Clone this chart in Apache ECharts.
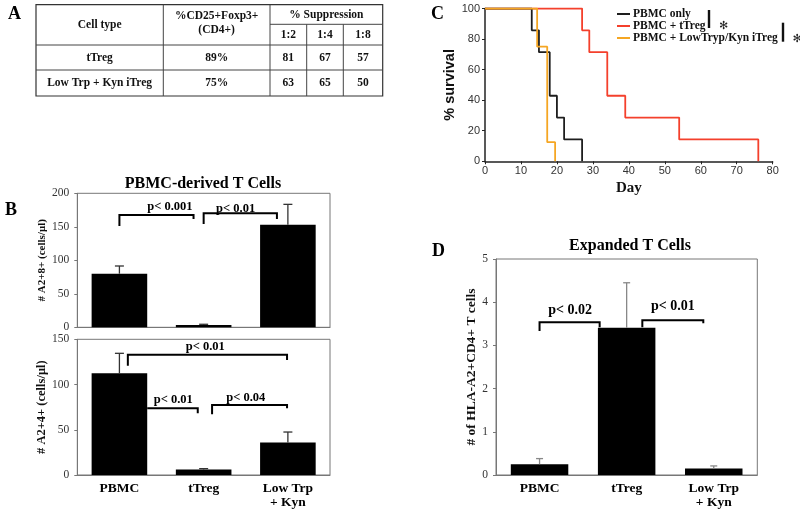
<!DOCTYPE html>
<html><head><meta charset="utf-8">
<script src="https://cdn.jsdelivr.net/npm/echarts@6/dist/echarts.min.js"></script>
<style>html,body{margin:0;padding:0;background:#fff}#c{width:800px;height:511px}</style>
</head><body><div id="c"></div>
<script>
// ---------- DATA ----------
// Panel A table
const tableHeaders = ['Cell type', '%CD25+Foxp3+', '(CD4+)', '% Suppression'];
const ratios = ['1:2', '1:4', '1:8'];
const tableRows = [
  ['tTreg', '89%', '81', '67', '57'],
  ['Low Trp + Kyn iTreg', '75%', '63', '65', '50']
];
// Panel C survival
const survNames = ['PBMC only', 'PBMC + tTreg', 'PBMC + LowTryp/Kyn iTreg'];
const pbmcDays = [0, 13, 15, 18, 20, 22, 27];
const pbmcSurv = [100, 85.7, 71.4, 42.9, 28.6, 14.3, 0];
const tregDays = [0, 27, 29, 34, 39, 54, 76];
const tregSurv = [100, 85.7, 71.4, 42.9, 28.6, 14.3, 0];
const lowDays = [0, 14.5, 17.3, 19.5];
const lowSurv = [100, 75, 12.5, 0];
// Panel B / D bars
const groups = ['PBMC', 'tTreg', 'Low Trp\n+ Kyn'];
const a28Mean = [80, 3.5, 153];
const a28Top = [91.5, 4.5, 183.5];
const a24Mean = [112.5, 6, 36];
const a24Top = [134.5, 7, 47.5];
const expMean = [0.25, 3.41, 0.15];
const expTop = [0.38, 4.45, 0.21];
// significance brackets: [x1, x2, yTop, yLeft, yRight, textX, textY]
const brA28 = [[0, 0.88, 167.6, 151.2, 161.6, 0.6, 180], [1.0, 1.87, 170.1, 154.2, 161.6, 1.38, 177]];
const brA28Txt = ['p< 0.001', 'p< 0.01'];
const brA24 = [[0.1, 1.99, 133, 120.8, 127.1, 1.02, 141.8], [0.33, 0.93, 73.7, 73.7, 68.2, 0.64, 82.9], [1.1, 1.99, 77.4, 67.1, 73.7, 1.5, 85.4]];
const brA24Txt = ['p< 0.01', 'p< 0.01', 'p< 0.04'];
const brExp = [[0, 0.69, 3.535, 3.333, 3.419, 0.35, 3.82], [1.18, 1.88, 3.58, 3.42, 3.51, 1.53, 3.9]];
const brExpTxt = ['p< 0.02', 'p< 0.01'];

// ---------- CHART ----------
const SERIF = '"Liberation Serif","Times New Roman",serif';
const SANS = '"Liberation Sans",Arial,sans-serif';
const chart = echarts.init(document.getElementById('c'));

function zip(a, b) { return a.map((v, i) => [v, b[i]]); }
function errData(m, t) { return m.map((v, i) => [i, v, t[i]]); }

function errRender(capHalf, color) {
  return function (params, api) {
    const x = api.value(0), m = api.value(1), t = api.value(2);
    const p0 = api.coord([x, m]), p1 = api.coord([x, t]);
    return { type: 'group', children: [
      { type: 'line', shape: { x1: p0[0], y1: p0[1], x2: p1[0], y2: p1[1] }, style: { stroke: color, lineWidth: 1.3 } },
      { type: 'line', shape: { x1: p1[0] - capHalf, y1: p1[1], x2: p1[0] + capHalf, y2: p1[1] }, style: { stroke: color, lineWidth: 1.3 } }
    ] };
  };
}
function brRender(labels, fs) {
  return function (params, api) {
    const v = i => api.value(i);
    const a = api.coord([v(0), v(3)]), b = api.coord([v(0), v(2)]), c = api.coord([v(1), v(2)]), d = api.coord([v(1), v(4)]);
    const tp = api.coord([v(5), v(6)]);
    return { type: 'group', children: [
      { type: 'polyline', shape: { points: [a, b, c, d] }, style: { stroke: '#000', lineWidth: 2, fill: null } },
      { type: 'text', x: tp[0], y: tp[1], style: { text: labels[params.dataIndex], fill: '#000', font: 'bold ' + fs + 'px ' + SERIF, textAlign: 'center', textVerticalAlign: 'middle' } }
    ] };
  };
}

const catLabel = { fontFamily: SERIF, fontWeight: 'bold', fontSize: 13.5, color: '#000', lineHeight: 14, margin: 7 };
const boxGrid = { show: true, borderColor: '#777', borderWidth: 1, backgroundColor: 'transparent' };
function barY(max, interval, name, nameSize, nameGap, grid) {
  return {
    type: 'value', gridIndex: grid, min: 0, max: max, interval: interval,
    name: name, nameLocation: 'middle', nameGap: nameGap,
    nameTextStyle: { fontFamily: SERIF, fontWeight: 'bold', fontSize: nameSize, color: '#111' },
    axisLine: { show: true, onZero: false, lineStyle: { color: '#777', width: 1 } },
    axisTick: { show: true, length: 3, lineStyle: { color: '#777' } },
    axisLabel: { fontFamily: SERIF, fontSize: 11.5, color: '#333', margin: 8 },
    splitLine: { show: false }
  };
}
function catX(grid, showLabels) {
  return {
    type: 'category', gridIndex: grid, data: groups,
    axisLine: { show: true, onZero: false, lineStyle: { color: '#777', width: 1 } },
    axisTick: { show: false },
    axisLabel: showLabels ? catLabel : { show: false }
  };
}
function hidX(grid) {
  return { type: 'value', gridIndex: grid, min: -0.5, max: 2.5, show: false };
}

const option = {
  animation: false,
  backgroundColor: '#fff',
  title: [
    { text: 'A', left: 3, top: 0, textStyle: { fontFamily: SERIF, fontWeight: 'bold', fontSize: 18, color: '#000' } },
    { text: 'B', left: 0, top: 196, textStyle: { fontFamily: SERIF, fontWeight: 'bold', fontSize: 18, color: '#000' } },
    { text: 'C', left: 426, top: 0, textStyle: { fontFamily: SERIF, fontWeight: 'bold', fontSize: 18, color: '#000' } },
    { text: 'D', left: 427, top: 237, textStyle: { fontFamily: SERIF, fontWeight: 'bold', fontSize: 18, color: '#000' } },
    { text: 'PBMC-derived T Cells', left: 198, top: 171, textAlign: 'center', textStyle: { fontFamily: SERIF, fontWeight: 'bold', fontSize: 16, color: '#000' } },
    { text: 'Expanded T Cells', left: 625, top: 233, textAlign: 'center', textStyle: { fontFamily: SERIF, fontWeight: 'bold', fontSize: 16, color: '#000' } }
  ],
  legend: {
    data: survNames.map(n => ({ name: n, icon: 'rect' })), orient: 'vertical', left: 617, top: 8, padding: 0,
    itemWidth: 13, itemHeight: 2, itemGap: 0,
    textStyle: { fontFamily: SERIF, fontWeight: 'bold', fontSize: 11.5, color: '#111', lineHeight: 11.8, padding: [0, 0, 0, -2] }
  },
  grid: [
    { left: 485, top: 8.5, width: 287.7, height: 152.8 },
    Object.assign({ left: 77.3, top: 193.3, width: 252.7, height: 134 }, boxGrid),
    Object.assign({ left: 77.3, top: 339.3, width: 252.7, height: 135.7 }, boxGrid),
    Object.assign({ left: 496, top: 259, width: 261.3, height: 216 }, boxGrid)
  ],
  xAxis: [
    { type: 'value', gridIndex: 0, min: 0, max: 80, interval: 10, name: 'Day', nameLocation: 'middle', nameGap: 19,
      nameTextStyle: { fontFamily: SERIF, fontWeight: 'bold', fontSize: 15, color: '#111' },
      axisLine: { show: true, onZero: false, lineStyle: { color: '#222', width: 1.5 } },
      axisTick: { show: true, length: 3, lineStyle: { color: '#222' } },
      axisLabel: { fontFamily: SANS, fontSize: 11, color: '#333', margin: 4 }, splitLine: { show: false } },
    catX(1, false), hidX(1),
    catX(2, true), hidX(2),
    catX(3, true), hidX(3)
  ],
  yAxis: [
    { type: 'value', gridIndex: 0, min: 0, max: 100, interval: 20, name: '% survival', nameLocation: 'middle', nameGap: 12,
      nameTextStyle: { fontFamily: SANS, fontWeight: 'bold', fontSize: 14.5, color: '#111' },
      axisLine: { show: true, onZero: false, lineStyle: { color: '#222', width: 1.5 } },
      axisTick: { show: true, length: 3, lineStyle: { color: '#222' } },
      axisLabel: { fontFamily: SANS, fontSize: 11, color: '#333', margin: 5 }, splitLine: { show: false } },
    barY(200, 50, '# A2+8+ (cells/\u03bcl)', 11, 26, 1),
    barY(150, 50, '# A2+4+ (cells/\u03bcl)', 12.5, 26, 2),
    barY(5, 1, '# of HLA-A2+CD4+ T cells', 13.5, 17, 3)
  ],
  series: [
    { name: survNames[0], type: 'line', step: 'end', xAxisIndex: 0, yAxisIndex: 0, symbol: 'none', data: zip(pbmcDays, pbmcSurv), color: '#1e1e1e', lineStyle: { width: 1.8 }, z: 4 },
    { name: survNames[1], type: 'line', step: 'end', xAxisIndex: 0, yAxisIndex: 0, symbol: 'none', data: zip(tregDays, tregSurv), color: '#f4402c', lineStyle: { width: 1.8 }, z: 3 },
    { name: survNames[2], type: 'line', step: 'end', xAxisIndex: 0, yAxisIndex: 0, symbol: 'none', data: zip(lowDays, lowSurv), color: '#f5a623', lineStyle: { width: 1.8 }, z: 5 },

    { type: 'bar', xAxisIndex: 1, yAxisIndex: 1, data: a28Mean, barWidth: '66%', itemStyle: { color: '#000' }, z: 2 },
    { type: 'custom', xAxisIndex: 2, yAxisIndex: 1, data: errData(a28Mean, a28Top), renderItem: errRender(4.5, '#333'), z: 3 },
    { type: 'custom', xAxisIndex: 2, yAxisIndex: 1, data: brA28, renderItem: brRender(brA28Txt, 12.5), z: 4 },

    { type: 'bar', xAxisIndex: 3, yAxisIndex: 2, data: a24Mean, barWidth: '66%', itemStyle: { color: '#000' }, z: 2 },
    { type: 'custom', xAxisIndex: 4, yAxisIndex: 2, data: errData(a24Mean, a24Top), renderItem: errRender(4.5, '#333'), z: 3 },
    { type: 'custom', xAxisIndex: 4, yAxisIndex: 2, data: brA24, renderItem: brRender(brA24Txt, 12.5), z: 4 },

    { type: 'bar', xAxisIndex: 5, yAxisIndex: 3, data: expMean, barWidth: '66%', itemStyle: { color: '#000' }, z: 2 },
    { type: 'custom', xAxisIndex: 6, yAxisIndex: 3, data: errData(expMean, expTop), renderItem: errRender(3.5, '#888'), z: 3 },
    { type: 'custom', xAxisIndex: 6, yAxisIndex: 3, data: brExp, renderItem: brRender(brExpTxt, 14), z: 4 }
  ],
  graphic: []
};

// ----- Table (panel A) -----
const colX = [36, 163.3, 270, 306.7, 343.3, 382.7];
const rowY = [4.7, 45, 70, 96];
const subY = 24.3;
const g = [];
const ln = (x1, y1, x2, y2, w, c) => g.push({ type: 'line', shape: { x1, y1, x2, y2 }, style: { stroke: c || '#444', lineWidth: w || 1 }, silent: true });
const tx = (t, x, y) => g.push({ type: 'text', x, y, style: { text: t, font: 'bold 11.5px ' + SERIF, fill: '#111', textAlign: 'center', textVerticalAlign: 'middle' }, silent: true });
g.push({ type: 'rect', shape: { x: colX[0], y: rowY[0], width: colX[5] - colX[0], height: rowY[3] - rowY[0] }, style: { stroke: '#333', lineWidth: 1.2, fill: null }, silent: true });
ln(colX[1], rowY[0], colX[1], rowY[3]);
ln(colX[2], rowY[0], colX[2], rowY[3]);
ln(colX[3], subY, colX[3], rowY[3]);
ln(colX[4], subY, colX[4], rowY[3]);
ln(colX[0], rowY[1], colX[5], rowY[1]);
ln(colX[0], rowY[2], colX[5], rowY[2]);
ln(colX[2], subY, colX[5], subY);
tx(tableHeaders[0], (colX[0] + colX[1]) / 2, 25);
tx(tableHeaders[1], (colX[1] + colX[2]) / 2, 16.5);
tx(tableHeaders[2], (colX[1] + colX[2]) / 2, 30.5);
tx(tableHeaders[3], (colX[2] + colX[5]) / 2, 15);
ratios.forEach((r, i) => tx(r, (colX[2 + i] + colX[3 + i]) / 2, 35));
tableRows.forEach((row, ri) => {
  const cy = (rowY[1 + ri] + rowY[2 + ri]) / 2 + 0.5;
  row.forEach((cell, ci) => tx(cell, (colX[ci] + colX[ci + 1]) / 2, cy));
});
// legend significance marks (panel C)
g.push({ type: 'rect', shape: { x: 707.8, y: 10, width: 2.4, height: 18 }, style: { fill: '#111' }, silent: true });
g.push({ type: 'rect', shape: { x: 781.8, y: 22.7, width: 2.4, height: 19 }, style: { fill: '#111' }, silent: true });
g.push({ type: 'text', x: 723.5, y: 26, style: { text: '\u273b', font: '11px "DejaVu Sans"', fill: '#222', textAlign: 'center', textVerticalAlign: 'middle' }, silent: true });
g.push({ type: 'text', x: 797, y: 39.5, style: { text: '\u273b', font: '11px "DejaVu Sans"', fill: '#222', textAlign: 'center', textVerticalAlign: 'middle' }, silent: true });
option.graphic = g;

chart.setOption(option);
</script></body></html>
